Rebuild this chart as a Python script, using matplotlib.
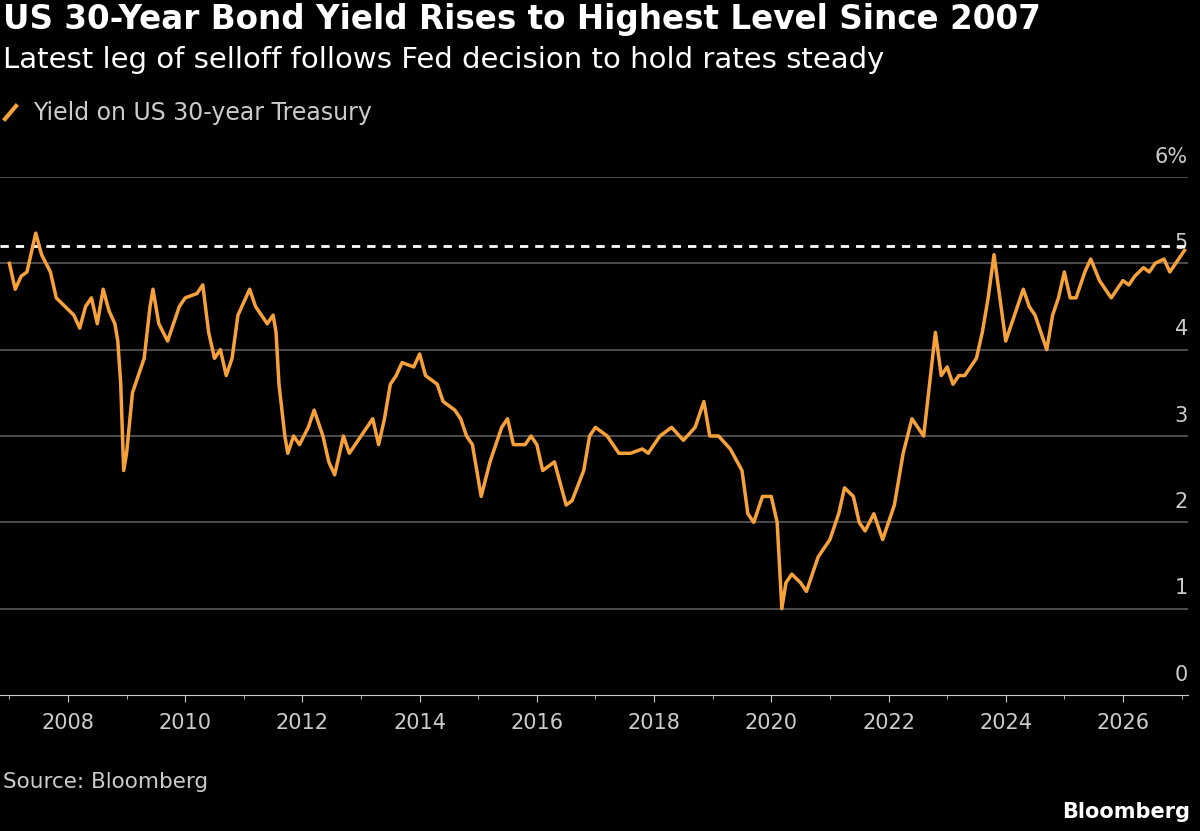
import matplotlib
matplotlib.use("Agg")
import matplotlib.pyplot as plt
import numpy as np

dates = [2007.0,2007.1,2007.2,2007.3,2007.45,2007.55,2007.7,2007.8,2007.95,2008.1,2008.2,2008.3,2008.4,2008.5,2008.6,2008.7,2008.8,2008.85,2008.9,2008.95,
2009.0,2009.1,2009.2,2009.3,2009.4,2009.45,2009.55,2009.7,2009.8,2009.9,2010.0,2010.2,2010.3,2010.4,2010.5,2010.6,2010.7,2010.8,2010.9,
2011.0,2011.1,2011.2,2011.3,2011.4,2011.5,2011.55,2011.6,2011.7,2011.75,2011.85,2011.95,2012.1,2012.2,2012.35,2012.45,2012.55,2012.7,2012.8,2012.9,
2013.0,2013.2,2013.3,2013.4,2013.5,2013.6,2013.7,2013.9,2014.0,2014.1,2014.3,2014.4,2014.6,2014.7,2014.8,2014.9,2015.05,2015.2,2015.4,2015.5,2015.6,2015.8,2015.9,
2016.0,2016.1,2016.3,2016.5,2016.6,2016.8,2016.9,2017.0,2017.2,2017.4,2017.6,2017.8,2017.9,2018.1,2018.3,2018.5,2018.7,2018.85,2018.95,
2019.1,2019.3,2019.5,2019.6,2019.7,2019.85,2020.0,2020.1,2020.18,2020.25,2020.35,2020.5,2020.6,2020.8,2021.0,2021.15,2021.25,2021.4,2021.5,2021.6,2021.75,2021.9,
2022.0,2022.1,2022.25,2022.4,2022.5,2022.6,2022.7,2022.8,2022.9,2023.0,2023.1,2023.2,2023.3,2023.4,2023.5,2023.6,2023.7,2023.8,2023.9,
2024.0,2024.1,2024.3,2024.4,2024.5,2024.6,2024.7,2024.8,2024.9,2025.0,2025.1,2025.2,2025.35,2025.45,2025.6,2025.7,2025.8,2025.9,
2026.0,2026.1,2026.2,2026.35,2026.45,2026.55,2026.7,2026.8,2026.9,2027.05]
yields = [5.0,4.7,4.85,4.9,5.35,5.1,4.9,4.6,4.5,4.4,4.25,4.5,4.6,4.3,4.7,4.45,4.3,4.1,3.6,2.6,
2.8,3.5,3.7,3.9,4.5,4.7,4.3,4.1,4.3,4.5,4.6,4.65,4.75,4.2,3.9,4.0,3.7,3.9,4.4,
4.55,4.7,4.5,4.4,4.3,4.4,4.2,3.6,3.0,2.8,3.0,2.9,3.1,3.3,3.0,2.7,2.55,3.0,2.8,2.9,
3.0,3.2,2.9,3.2,3.6,3.7,3.85,3.8,3.95,3.7,3.6,3.4,3.3,3.2,3.0,2.9,2.3,2.7,3.1,3.2,2.9,2.9,3.0,
2.9,2.6,2.7,2.2,2.25,2.6,3.0,3.1,3.0,2.8,2.8,2.85,2.8,3.0,3.1,2.95,3.1,3.4,3.0,
3.0,2.85,2.6,2.1,2.0,2.3,2.3,2.0,1.0,1.3,1.4,1.3,1.2,1.6,1.8,2.1,2.4,2.3,2.0,1.9,2.1,1.8,
2.0,2.2,2.8,3.2,3.1,3.0,3.6,4.2,3.7,3.8,3.6,3.7,3.7,3.8,3.9,4.2,4.6,5.1,4.6,
4.1,4.3,4.7,4.5,4.4,4.2,4.0,4.4,4.6,4.9,4.6,4.6,4.9,5.05,4.8,4.7,4.6,4.7,
4.8,4.75,4.85,4.95,4.9,5.0,5.05,4.9,5.0,5.15]
ref_level = 5.2
yticks = [0,1,2,3,4,5,6]
ytick_labels = ["0","1","2","3","4","5","6%"]
xticks = list(range(2008, 2027, 2))

W, H = 1200, 831
fig = plt.figure(figsize=(12, 8.31), dpi=100, facecolor="black")
ax = fig.add_axes([0, 1-695/H, 1188/W, (695-177)/H], facecolor="black")
ax.set_xlim(2006.84, 2027.11)
ax.set_ylim(0, 6)
for y in yticks[1:]:
    ax.axhline(y, color="#5a5a5a", lw=1.2, zorder=1)
for y, lab in zip(yticks, ytick_labels):
    ax.text(1.0, y + 0.12, lab, transform=ax.get_yaxis_transform(), ha="right", va="bottom",
            color="#cccccc", fontsize=15)
ax.axhline(ref_level, color="white", lw=2, ls=(0, (3, 2.5)), zorder=3)
ax.plot(dates, yields, color="#f7a13a", lw=2.5, zorder=4)
for s in ["top", "right", "left"]:
    ax.spines[s].set_visible(False)
ax.spines["bottom"].set_color("#cccccc")
ax.set_yticks([])
ax.set_xticks(xticks)
ax.set_xticklabels([str(x) for x in xticks], color="#cccccc", fontsize=15)
ax.tick_params(axis="x", colors="#cccccc", length=5, pad=8, labelcolor="#cccccc")
ax.set_xticks(list(range(2007, 2028)), minor=True)
ax.tick_params(axis="x", which="minor", length=3, color="#cccccc")

fig.text(3/W, 1-20/H, "US 30-Year Bond Yield Rises to Highest Level Since 2007", color="white",
         fontsize=23.5, fontweight="bold", va="center")
fig.text(3/W, 1-60/H, "Latest leg of selloff follows Fed decision to hold rates steady", color="white",
         fontsize=21, va="center")
fig.add_artist(plt.Line2D([5/W, 16/W], [1-119/H, 1-106/H], color="#f7a13a", lw=3))
fig.text(33/W, 1-113/H, "Yield on US 30-year Treasury", color="#cccccc", fontsize=17, va="center")
fig.text(3/W, 1-782/H, "Source: Bloomberg", color="#cccccc", fontsize=15.5, va="center")
fig.text(1190/W, 1-812/H, "Bloomberg", color="white", fontsize=15, fontweight="bold", va="center", ha="right")
fig.savefig("out.png", dpi=100, facecolor="black")
